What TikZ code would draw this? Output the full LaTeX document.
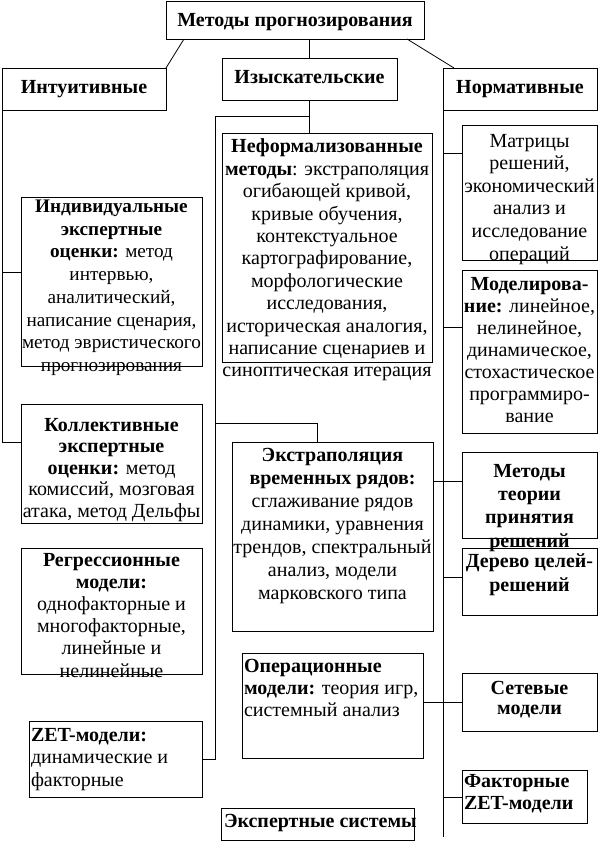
\documentclass[tikz,border=0pt]{standalone}
\usepackage{fontspec}
\setmainfont{Liberation Serif}
\begin{document}
\begin{tikzpicture}[x=1pt,y=-1pt,
  box/.style={draw, line width=0.8pt, inner sep=0pt, outer sep=0pt, anchor=north west},
  ln/.style={line width=0.8pt},
  txt/.style={inner sep=0pt, outer sep=0pt, align=center, anchor=north, font=\fontsize{20}{#1}\selectfont},
  txt/.default=22.5,
  ltxt/.style={inner sep=0pt, outer sep=0pt, align=left, anchor=north west, font=\fontsize{20}{#1}\selectfont},
  ltxt/.default=22.5,
  one/.style={inner sep=0pt, outer sep=0pt, anchor=base, font=\fontsize{20}{22.5}\selectfont\bfseries}]
\useasboundingbox (0,0) rectangle (607,847);
% boxes
\node[box, minimum width=258pt, minimum height=38pt] (top) at (166,1) {};
\node[box, minimum width=164pt, minimum height=42pt] (intu) at (2,68) {};
\node[box, minimum width=175pt, minimum height=42pt] (izys) at (222,58) {};
\node[box, minimum width=154pt, minimum height=42pt] (norm) at (443,68) {};
\node[box, minimum width=210pt, minimum height=229pt] (nef) at (222,133) {};
\node[box, minimum width=181pt, minimum height=169pt] (ind) at (21,197) {};
\node[box, minimum width=181pt, minimum height=119pt] (koll) at (21,404) {};
\node[box, minimum width=181pt, minimum height=126pt] (regr) at (21,548) {};
\node[box, minimum width=173pt, minimum height=76pt] (zet) at (29,721) {};
\node[box, minimum width=201pt, minimum height=189pt] (extr) at (232,442) {};
\node[box, minimum width=181pt, minimum height=105pt] (oper) at (242,653) {};
\node[box, minimum width=193pt, minimum height=32pt] (expr) at (221,808) {};
\node[box, minimum width=135pt, minimum height=135pt] (matr) at (462,125) {};
\node[box, minimum width=135pt, minimum height=163pt] (model) at (462,270) {};
\node[box, minimum width=135pt, minimum height=86pt] (mtpr) at (462,452) {};
\node[box, minimum width=135pt, minimum height=67pt] (derevo) at (462,548) {};
\node[box, minimum width=135pt, minimum height=58pt] (setev) at (462,673) {};
\node[box, minimum width=125pt, minimum height=53pt] (fakt) at (462,770) {};
% texts
\node[one] (top-t) at (295,26) {Методы прогнозирования};
\node[one] (intu-t) at (84,93) {Интуитивные};
\node[one] (izys-t) at (309.5,83) {Изыскательские};
\node[one] (norm-t) at (520,93) {Нормативные};
\node[txt=22.4] (nef-t) at (327,139) {\textbf{Неформализованные}\\ \textbf{методы}: экстраполяция\\ огибающей кривой,\\ кривые обучения,\\ контекстуальное\\ картографирование,\\ морфологические\\ исследования,\\ историческая аналогия,\\ написание сценариев и\\ синоптическая итерация};
\node[txt=22.7, font=\fontsize{19.2}{22.7}\selectfont] (ind-t) at (111.5,200) {\textbf{Индивидуальные}\\ \textbf{экспертные}\\ \textbf{оценки:} метод\\ интервью,\\ аналитический,\\ написание сценария,\\ метод эвристического\\ прогнозирования};
\node[txt=21.5] (koll-t) at (111.5,418) {\textbf{Коллективные}\\ \textbf{экспертные}\\ \textbf{оценки:} метод\\ комиссий, мозговая\\ атака, метод Дельфы};
\node[txt=22.2] (regr-t) at (111.5,553) {\textbf{Регрессионные}\\ \textbf{модели:}\\ однофакторные и\\ многофакторные,\\ линейные и\\ нелинейные};
\node[ltxt=22.5] (zet-t) at (31,728) {\textbf{ZET-модели:}\\ динамические и\\ факторные};
\node[txt=23] (extr-t) at (332.5,448) {\textbf{Экстраполяция}\\ \textbf{временных рядов:}\\ сглаживание рядов\\ динамики, уравнения\\ трендов, спектральный\\ анализ, модели\\ марковского типа};
\node[ltxt=22] (oper-t) at (244,659) {\textbf{Операционные}\\ \textbf{модели:} теория игр,\\ системный анализ};
\node[one, anchor=base west] (expr-t) at (224,827) {Экспертные системы};
\node[txt=22.6] (matr-t) at (529.5,134) {Матрицы\\ решений,\\ экономический\\ анализ и\\ исследование\\ операций};
\node[txt=22] (model-t) at (529.5,277) {\textbf{Моделирова-}\\ \textbf{ние:} линейное,\\ нелинейное,\\ динамическое,\\ стохастическое\\ программиро-\\ вание};
\node[txt=23.3] (mtpr-t) at (529.5,464) {\textbf{Методы}\\ \textbf{теории}\\ \textbf{принятия}\\ \textbf{решений}};
\node[txt=24] (derevo-t) at (529.5,554) {\textbf{Дерево целей-}\\ \textbf{решений}};
\node[txt=20.5] (setev-t) at (529.5,681) {\textbf{Сетевые}\\ \textbf{модели}};
\node[ltxt=22] (fakt-t) at (464,774) {\textbf{Факторные}\\ \textbf{ZET-модели}};
% connectors from the top
\draw[ln] ([xshift=18pt]top.south west) -- (intu.north east);
\draw[ln] (izys.north |- top.south) -- (izys.north);
\draw[ln] ([xshift=-17pt]top.south east) -- ([xshift=11pt]norm.north west);
% exploratory branch
\draw[ln] (izys.south) -- (izys.south |- nef.north);
\coordinate (b1) at (309.5,116);
\coordinate (b2) at (215,116);
\coordinate (b3) at (215,423);
\coordinate (b4) at (317,423);
\draw[ln] (b1) -- (b2) -- (b2 |- zet.east) -- (zet.east);
\draw[ln] (b3) -- (b4) -- (b4 |- extr.north);
% intuitive branch
\coordinate (l1) at (2,272);
\coordinate (l2) at (2,442);
\draw[ln] (intu.south west) -- (l2) -- (l2 -| koll.west);
\draw[ln] (l1) -- (l1 -| ind.west);
% normative branch
\coordinate (rend) at (443,837);
\draw[ln] (norm.south west) -- (rend);
\coordinate (r1) at (443,153);
\coordinate (r2) at (443,327);
\coordinate (r3) at (443,481);
\coordinate (r4) at (443,577);
\coordinate (r5) at (443,702);
\coordinate (r6) at (443,797);
\draw[ln] (r1) -- (r1 -| matr.west);
\draw[ln] (r2) -- (r2 -| model.west);
\draw[ln] (r3 -| extr.east) -- (r3 -| mtpr.west);
\draw[ln] (r4) -- (r4 -| derevo.west);
\draw[ln] (r5 -| oper.east) -- (r5 -| setev.west);
\draw[ln] (r6) -- (r6 -| fakt.west);
\end{tikzpicture}
\end{document}
